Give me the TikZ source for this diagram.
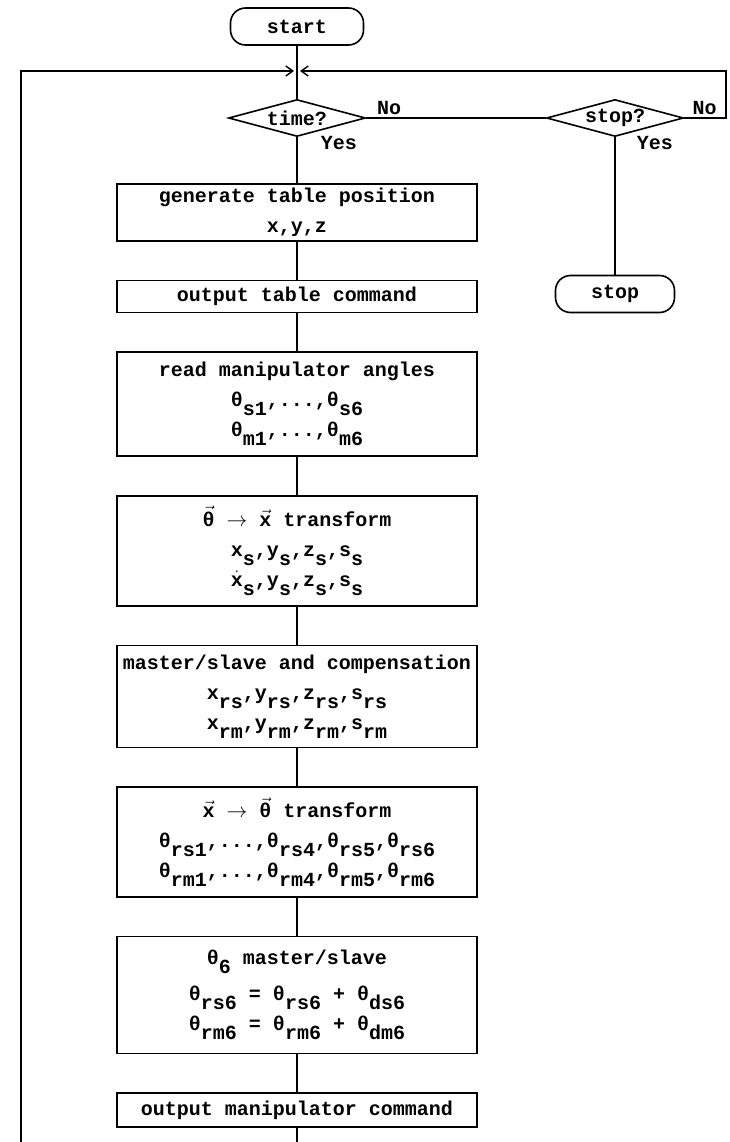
\documentclass[tikz,border=0pt]{standalone}
\usepackage{amsmath}
\usepackage{fontspec}
\setmonofont{Liberation Mono}
\usepackage{tikz}
\usetikzlibrary{arrows.meta, positioning, shapes.geometric}
\tikzset{%
	proc/.style={draw, rectangle, line width=1.6pt, minimum width=360pt, inner sep=0pt,%
		align=center, font=\flowfont},
	term/.style={draw, rectangle, line width=1.6pt, rounded corners=15pt, minimum height=37pt,%
		inner sep=0pt, font=\flowfont},
	cond/.style={draw, diamond, line width=1.6pt, aspect=3.7, inner sep=0pt,%
		minimum width=137pt, minimum height=37pt, font=\flowfont},
	connector/.style={line width=1.6pt},
	back/.style={connector, -{Straight Barb[length=7pt, width=10pt, line width=1.4pt]}},
	answer/.style={font=\flowfont, inner sep=0pt}
}
\newcommand{\flowfont}{\ttfamily\bfseries\fontsize{20}{30}\selectfont}
\newcommand{\dn}[1]{\raisebox{-0.45em}{#1}}
\newcommand{\ang}[1]{θ\dn{#1}}
\newcommand{\vect}[1]{\ensuremath{\vec{\mbox{#1}}}}

\begin{document}
\begin{tikzpicture}[x=1pt, y=-1pt, node distance=38pt]
	\useasboundingbox (0,0) rectangle (729,1142);
	%decisions
	\node [term, minimum width=133pt] (S) at (297,26.5) {start};
	\coordinate (J) at (297,71);
	\node [cond] (T) at (297,118) {time?};
	\node [cond] (Q) at (615,118) {stop?};
	\node [term, minimum width=119pt] (E) at (615,294) {stop};
	%main column
	\node [proc, minimum height=57pt] (G) at (297,212.5) {generate table position\\x,y,z};
	\node [proc, minimum height=32pt, below=of G] (O) {output table command};
	\node [proc, minimum height=104pt, below=of O] (R)
		{read manipulator angles\\\ang{s1},...,\ang{s6}\\\ang{m1},...,\ang{m6}};
	\node [proc, minimum height=110pt, below=of R] (A)
		{\vect{θ} $\rightarrow$ \vect{x} transform\\x\dn{s},y\dn{s},z\dn{s},s\dn{s}\\%
		\ensuremath{\dot{\mbox{x}}}\dn{s},y\dn{s},z\dn{s},s\dn{s}};
	\node [proc, minimum height=102pt, below=of A] (M)
		{master/slave and compensation\\x\dn{rs},y\dn{rs},z\dn{rs},s\dn{rs}\\%
		x\dn{rm},y\dn{rm},z\dn{rm},s\dn{rm}};
	\node [proc, minimum height=110pt, below=of M] (B)
		{\vect{x} $\rightarrow$ \vect{θ} transform\\%
		\ang{rs1},...,\ang{rs4},\ang{rs5},\ang{rs6}\\\ang{rm1},...,\ang{rm4},\ang{rm5},\ang{rm6}};
	\node [proc, minimum height=117pt, below=of B] (C)
		{\ang{6} master/slave\\[6pt]\ang{rs6} = \ang{rs6} + \ang{ds6}\\%
		\ang{rm6} = \ang{rm6} + \ang{dm6}};
	\node [proc, minimum height=34pt, below=of C] (P) {output manipulator command};
	\coordinate (SB) at (297,1142);
	\coordinate (SW) at (21,1142);
	\coordinate (NE) at (726,71);

	%flow
	\draw [connector] (S) -- (T);
	\draw [connector] (T) -- node[answer, at start, anchor=north west, xshift=23pt, yshift=2pt]{Yes}
		(G) -- (O) -- (R) -- (A) -- (M) -- (B) -- (C) -- (P) -- (SB);
	\draw [connector] (T) -- node[answer, at start, anchor=south west, xshift=10pt, yshift=3pt]{No} (Q);
	\draw [connector] (Q) -- node[answer, at start, anchor=north west, xshift=21pt, yshift=2pt]{Yes} (E);
	\path (Q.east) node[answer, anchor=south west, xshift=8pt, yshift=3pt]{No};
	%loop back
	\draw [back] (Q.east) -| (NE) -- ([xshift=3pt]J);
	\draw [back] (SW) |- ([xshift=-3pt]J);
\end{tikzpicture}
\end{document}
